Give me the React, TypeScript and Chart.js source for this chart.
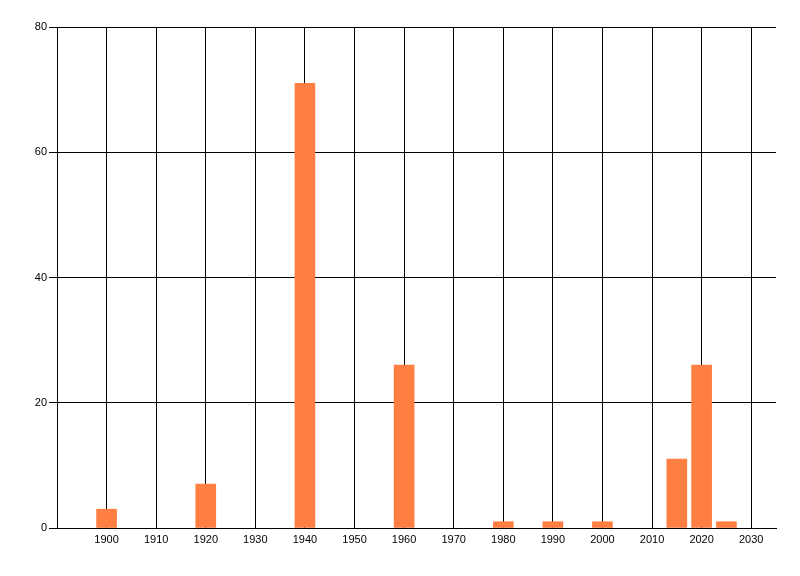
import React, { useEffect, useRef } from "react";
import { Chart, registerables } from "chart.js";

Chart.register(...registerables);

const years = [1900, 1920, 1940, 1960, 1980, 1990, 2000, 2015, 2020, 2025];
const counts = [3, 7, 71, 26, 1, 1, 1, 11, 26, 1];
const xTicks = [1900, 1910, 1920, 1930, 1940, 1950, 1960, 1970, 1980, 1990, 2000, 2010, 2020, 2030];
const yTicks = [0, 20, 40, 60, 80];

export default function App() {
  const ref = useRef<HTMLCanvasElement | null>(null);
  useEffect(() => {
    if (!ref.current) return;
    const font = { family: "'Liberation Sans', Arial, sans-serif", size: 11 };
    const chart = new Chart(ref.current, {
      type: "bar",
      data: {
        datasets: [
          {
            data: years.map((y, i) => ({ x: y, y: counts[i] })),
            backgroundColor: "#FF7F42",
            borderWidth: 0,
            barThickness: 20,
          },
        ],
      },
      options: {
        animation: false,
        responsive: false,
        maintainAspectRatio: false,
        layout: { padding: { left: 0, top: 27, right: 24, bottom: 0 } },
        plugins: { legend: { display: false }, tooltip: { enabled: false } },
        scales: {
          x: {
            type: "linear",
            min: 1890,
            max: 2035,
            offset: false,
            afterBuildTicks: (axis: any) => {
              axis.ticks = xTicks.map((v) => ({ value: v }));
            },
            afterFit: (scale: any) => {
              scale.height = 48;
            },
            grid: { color: "#000", lineWidth: 1, drawTicks: false, offset: false },
            border: { color: "#000", width: 1 },
            ticks: { color: "#000", font, padding: 5, maxRotation: 0, autoSkip: false, callback: (v: any) => String(v) },
          },
          y: {
            min: 0,
            max: 80,
            afterBuildTicks: (axis: any) => {
              axis.ticks = yTicks.map((v) => ({ value: v }));
            },
            afterFit: (scale: any) => {
              scale.width = 57;
            },
            grid: { color: "#000", lineWidth: 1, tickLength: 8 },
            border: { color: "#000", width: 1 },
            ticks: { color: "#000", font, padding: 2 },
          },
        },
      },
    });
    return () => chart.destroy();
  }, []);
  return (
    <div style={{ position: "absolute", left: 0, top: 0, width: 800, height: 576, background: "#fff" }}>
      <canvas ref={ref} width={800} height={576} style={{ width: 800, height: 576 }} />
    </div>
  );
}
